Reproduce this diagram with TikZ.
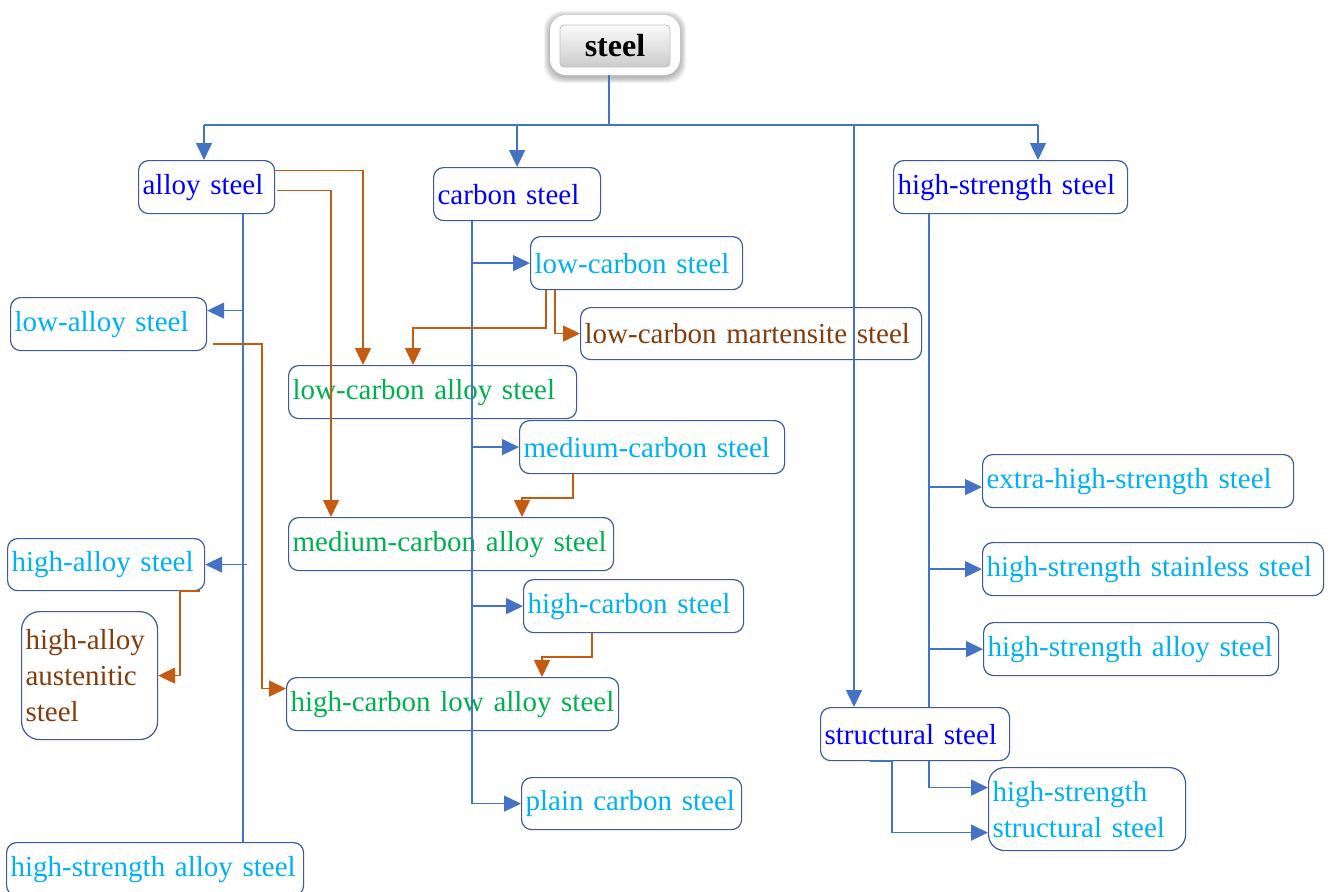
\documentclass[tikz,border=0pt]{standalone}
\usepackage{fontspec}
\setmainfont{Liberation Serif}
\usetikzlibrary{arrows.meta}
\definecolor{linkblue}{HTML}{4472C4}
\definecolor{boxline}{HTML}{3D5A9A}
\definecolor{flowor}{HTML}{C55A11}
\definecolor{txtblue}{HTML}{0000FF}
\definecolor{txtcyan}{HTML}{00B0F0}
\definecolor{txtgreen}{HTML}{00B050}
\definecolor{txtbrown}{HTML}{843C0C}
\tikzset{
	box/.style={draw=boxline, line width=0.6pt, rounded corners=5pt, anchor=north west,
		inner xsep=2pt, inner ysep=0pt, align=left, font=\fontsize{14.5}{18}\selectfont},
	link/.style={draw=linkblue, line width=0.75pt},
	flow/.style={draw=flowor, line width=0.75pt},
	tip/.style={-{Triangle[length=8.5pt,width=8pt]}}
}
\begin{document}
\begin{tikzpicture}[x=0.5pt, y=-0.5pt]
				\useasboundingbox (0,0) rectangle (1330,891);
				\foreach \g in {1,...,6}
					\fill[black, opacity=0.05, rounded corners=9pt] (550-\g,17-\g) rectangle (680+\g,77+\g);
				\node[fill=white, rounded corners=8pt, minimum width=65pt, minimum height=30pt] (steel) at (615,45) {};
				\node[rounded corners=2pt, top color=gray!4, bottom color=gray!40, draw=gray!50,
					minimum width=55pt, minimum height=21pt, font=\fontsize{16}{18}\selectfont\bfseries] (steelbtn) at (615,46) {steel};
				\node[box, text=txtblue, text width=64pt, minimum height=26.5pt] (alloy) at (138,160) {alloy steel};
				\node[box, text=txtblue, text width=79.5pt, minimum height=26.5pt] (carbon) at (433,167) {carbon steel};
				\node[box, text=txtblue, text width=113pt, minimum height=26.5pt] (hss) at (893,160) {high-strength steel};
				\node[box, text=txtcyan, text width=94pt, minimum height=26.5pt] (lowalloy) at (10,297) {low-alloy steel};
				\node[box, text=txtcyan, text width=102pt, minimum height=26.5pt] (lowcarbon) at (530,236) {low-carbon steel};
				\node[box, text=txtbrown, text width=166.5pt, minimum height=26pt] (lcmart) at (580,307) {low-carbon martensite steel};
				\node[box, text=txtgreen, text width=140pt, minimum height=26.5pt] (lcalloy) at (288,365) {low-carbon alloy steel};
				\node[box, text=txtcyan, text width=128.5pt, minimum height=26.5pt] (medcarbon) at (519,420) {medium-carbon steel};
				\node[box, text=txtgreen, text width=158.5pt, minimum height=26.5pt] (mcalloy) at (288,517) {medium-carbon alloy steel};
				\node[box, text=txtcyan, text width=94.5pt, minimum height=26pt] (highalloy) at (7,538) {high-alloy steel};
				\node[box, text=txtbrown, text width=64pt, minimum height=64pt, rounded corners=9pt] (haaust) at (21,611) {high-alloy\\austenitic\\steel};
				\node[box, text=txtcyan, text width=106pt, minimum height=26.5pt] (highcarbon) at (523,579) {high-carbon steel};
				\node[box, text=txtgreen, text width=162pt, minimum height=26.5pt] (hclalloy) at (286,677) {high-carbon low alloy steel};
				\node[box, text=txtcyan, text width=106pt, minimum height=26pt] (plain) at (521,777) {plain carbon steel};
				\node[box, text=txtcyan, text width=144.5pt, minimum height=26.5pt] (hsalloyL) at (6,842) {high-strength alloy steel};
				\node[box, text=txtcyan, text width=151.5pt, minimum height=26.5pt] (extra) at (982,454) {extra-high-strength steel};
				\node[box, text=txtcyan, text width=166.5pt, minimum height=26.5pt] (stainless) at (982,542) {high-strength stainless steel};
				\node[box, text=txtcyan, text width=143.5pt, minimum height=26.5pt] (hsalloyR) at (983,622) {high-strength alloy steel};
				\node[box, text=txtblue, text width=90.5pt, minimum height=26.5pt, fill=white] (structural) at (820,707) {structural steel};
				\node[box, text=txtcyan, text width=94.5pt, minimum height=41.5pt, rounded corners=8pt] (hsstruct) at (988,767) {high-strength\\structural steel};
				\coordinate (busL) at (204,125);
				\coordinate (busR) at (1038,125);
				\coordinate (busS) at (854,125);
				\coordinate (atrunk) at ([xshift=52.5pt]alloy.south west);
				\coordinate (ctrunk) at ([xshift=19.5pt]carbon.south west);
				\coordinate (htrunk) at ([xshift=18pt]hss.south west);
				\draw[link] ([xshift=-3pt]steel.south) -- ++(0,50);
				\draw[link] (busL) -- (busR);
				\draw[link,tip] (busL) -- (busL |- alloy.north);
				\draw[link,tip] (carbon.north |- busL) -- (carbon.north);
				\draw[link,tip] (busR) -- (busR |- hss.north);
				\draw[link,tip] (busS) -- (busS |- structural.north);
				\draw[link] (atrunk) -- (atrunk |- hsalloyL.north);
				\draw[link,tip] ([yshift=6.75pt]lowalloy.east) ++(37,0) -- ([yshift=6.75pt]lowalloy.east);
				\draw[link,tip] (highalloy.east) ++(42,0) -- (highalloy.east);
				\draw[link,tip] (ctrunk) |- (plain.west);
				\draw[link,tip] (ctrunk |- lowcarbon.west) -- (lowcarbon.west);
				\draw[link,tip] (ctrunk |- medcarbon.west) -- (medcarbon.west);
				\draw[link,tip] (ctrunk |- highcarbon.west) -- (highcarbon.west);
				\draw[link] (htrunk) -- (htrunk |- structural.north);
				\draw[link,tip] (htrunk |- structural.south) |- ([yshift=10.75pt]hsstruct.west);
				\draw[link,tip] ([yshift=-3pt]htrunk |- extra.west) -- ([yshift=-3pt]extra.west);
				\draw[link,tip] (htrunk |- stainless.west) -- (stainless.west);
				\draw[link,tip] (htrunk |- hsalloyR.west) -- (hsalloyR.west);
				\draw[link,tip] ([xshift=25pt]structural.south west) -- ([xshift=36pt]structural.south west) |- ([yshift=-11.75pt]hsstruct.west);
				\draw[flow,tip] ([yshift=8.25pt]alloy.east) -| ([xshift=37.5pt]lcalloy.north west);
				\draw[flow,tip] ([xshift=1pt,yshift=-1.75pt]alloy.east) -| ([xshift=21.5pt]mcalloy.north west);
				\draw[flow,tip] ([xshift=3pt,yshift=3.5pt]lowalloy.south east) -| ([xshift=-12pt,yshift=7.75pt]hclalloy.west) -- ([yshift=7.75pt]hclalloy.west);
				\draw[flow,tip] ([xshift=8pt]lowcarbon.south west) -- ++(0,38) -| ([xshift=62.5pt]lcalloy.north west);
				\draw[flow,tip] ([xshift=12.5pt]lowcarbon.south west) |- (lcmart.west);
				\draw[flow,tip] ([xshift=27pt]medcarbon.south west) -- ++(0,24) -| ([xshift=117pt]mcalloy.north west);
				\draw[flow,tip] ([xshift=34.5pt]highcarbon.south west) -- ++(0,24) -| ([xshift=128pt]hclalloy.north west);
				\draw[flow,tip] ([xshift=-2.5pt]highalloy.south east) -- ++(-20,0) |- (haaust.east);
			\end{tikzpicture}
\end{document}
